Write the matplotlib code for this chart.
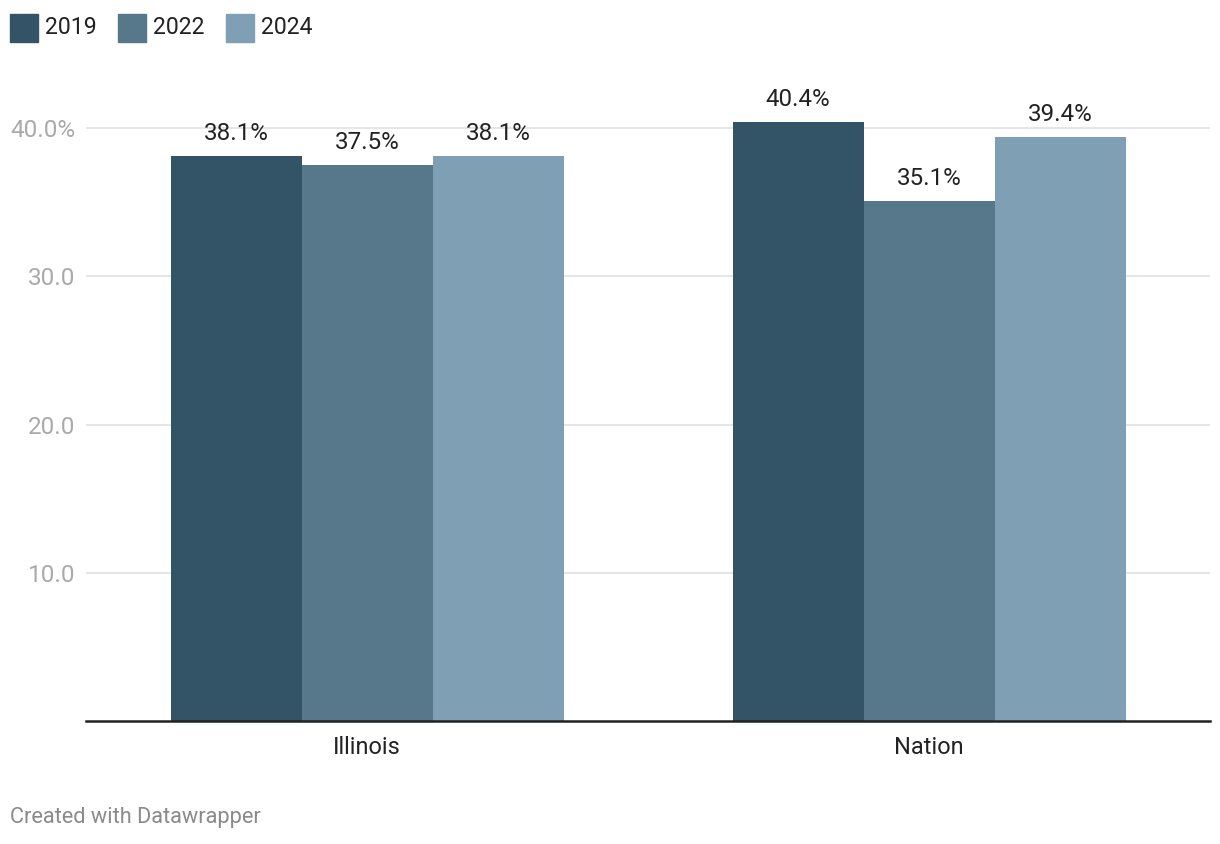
import matplotlib.pyplot as plt
import numpy as np
from matplotlib.patches import Rectangle

plt.rcParams['font.family'] = ['Roboto', 'DejaVu Sans']

categories = ["Illinois", "Nation"]
years = ["2019", "2022", "2024"]
values = {
    "2019": [38.1, 40.4],
    "2022": [37.5, 35.1],
    "2024": [38.1, 39.4],
}
colors = ["#335366", "#56788a", "#7fa0b4"]
ytick_vals = [10, 20, 30, 40]
ytick_labels = ["10.0", "20.0", "30.0", "40.0%"]

W, H = 1220, 844
fig = plt.figure(figsize=(W / 100, H / 100), dpi=100)
ax = fig.add_axes([86 / W, 123 / H, 1124 / W, (721 - 98.35) / H])

x = np.arange(len(categories))
bar_w = 131 / 562
for i, year in enumerate(years):
    pos = x + (i - 1) * bar_w
    bars = ax.bar(pos, values[year], width=bar_w, color=colors[i], zorder=2)
    for b, v in zip(bars, values[year]):
        ax.annotate(f"{v:.1f}%", (b.get_x() + b.get_width() / 2, v),
                    xytext=(0, 8), textcoords="offset points",
                    ha="center", va="bottom", fontsize=17.4, color="#222222")

ax.set_xlim(-0.5, 1.5)
ax.set_ylim(0, 42)
ax.set_yticks(ytick_vals)
ax.set_yticklabels(ytick_labels)
ax.set_xticks(x)
ax.set_xticklabels(categories)
ax.tick_params(axis="y", length=0, pad=7.5, labelsize=17.5, labelcolor="#aaaaaa")
ax.tick_params(axis="x", length=0, pad=11, labelsize=17, labelcolor="#222222")
ax.grid(axis="y", color="#e3e3e3", linewidth=1.3, zorder=0)
for s in ["top", "right", "left"]:
    ax.spines[s].set_visible(False)
ax.spines["bottom"].set_color("#222222")
ax.spines["bottom"].set_linewidth(1.8)
ax.spines["bottom"].set_zorder(3)

# legend along the top
leg_x = [10, 118, 226]
for lx, year, c in zip(leg_x, years, colors):
    fig.patches.append(Rectangle((lx / W, 1 - 42 / H), 28 / W, 28 / H,
                                 transform=fig.transFigure, color=c))
    fig.text((lx + 35) / W, 1 - 27 / H, year, fontsize=16.6, color="#222222",
             ha="left", va="center")

fig.text(10 / W, 1 - 818 / H, "Created with Datawrapper", fontsize=15.7,
         color="#8a8a8a", ha="left", va="center")

fig.savefig("out.png", dpi=100)
